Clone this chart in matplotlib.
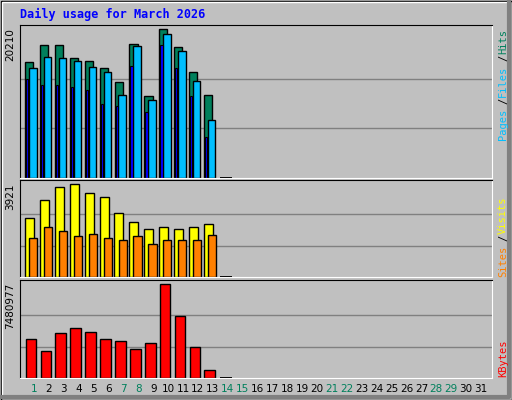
import matplotlib
matplotlib.use("Agg")
import matplotlib.pyplot as plt
import numpy as np

days = list(range(1, 32))
weekend = [1, 7, 8, 14, 15, 21, 22, 28, 29]
hits = [15730, 18040, 18040, 16280, 15870, 14920, 13020, 18180, 11120, 20210, 17770, 14380, 11260, 0]
files = [14920, 16410, 16280, 15870, 15060, 14380, 11260, 17900, 10580, 19530, 17230, 13160, 7870]
pages = [13430, 12610, 12610, 12340, 11940, 10040, 9770, 15190, 8950, 18040, 14920, 11120, 5560]
visits = [2460, 3220, 3730, 3880, 3500, 3330, 2650, 2290, 1980, 2100, 2000, 2080, 2210, 0]
sites = [1640, 2100, 1900, 1690, 1810, 1640, 1520, 1710, 1390, 1560, 1560, 1560, 1730]
kbytes = [3130000, 2160000, 3540000, 3950000, 3620000, 3130000, 2970000, 2330000, 2800000, 7480977, 4950000, 2470000, 650000, 0]
max_hits, max_vis, max_kb = 20210, 3921, 7480977

W, H = 512, 400
fig = plt.figure(figsize=(W/100, H/100), dpi=100)
fig.patch.set_facecolor("#C0C0C0")
bg = fig.add_axes([0, 0, 1, 1]); bg.set_xlim(0, W); bg.set_ylim(H, 0); bg.axis("off")
bg.add_patch(plt.Rectangle((0.5, 0.5), W-1, H-1, fill=False, ec="black", lw=1))
bg.add_patch(plt.Rectangle((2, 2), W-6, H-6, fill=False, ec="white", lw=1))
bg.plot([2, W-3, W-3], [H-3, H-3, 2], color="#808080", lw=3)
mono = "DejaVu Sans Mono"
bg.text(20, 14, "Daily usage for March 2026", color="#0000FF", fontsize=8.5, fontweight="bold",
        family=mono, va="center")

def mkax(y0, y1):
    ax = fig.add_axes([20/W, 1-y1/H, 472/W, (y1-y0)/H])
    ax.set_facecolor("#C0C0C0")
    ax.set_xlim(0.06, 31.74)
    ax.set_xticks([]); ax.set_yticks([])
    for s in ax.spines.values(): s.set_color("black")
    ax.spines["right"].set_color("white"); ax.spines["bottom"].set_color("white")
    return ax

def rlabels(y_bottom, parts):
    y = y_bottom
    for txt, col in parts:
        bg.text(503, y, txt, color=col, rotation=90, fontsize=7.5, family=mono, ha="center", va="bottom")
        y -= 7.2 * len(txt)

ec = dict(edgecolor="black", linewidth=1)
ax1 = mkax(25, 178)
ax1.set_ylim(0, max_hits*1.027)
for f in (1/3, 2/3): ax1.axhline(max_hits*f, color="#808080", lw=1, zorder=0)
d = np.arange(1, len(hits)+1)
ax1.bar(d[:13]-0.32, hits[:13], width=0.55, color="#00805C", **ec)
ax1.bar([14-0.1], [max_hits*0.007], width=0.8, color="black")
ax1.bar(d[:13]-0.08, files[:13], width=0.5, color="#00BFFF", **ec)
ax1.bar(d[:13]-0.45, pages, width=0.15, color="#0000FF", edgecolor="black", linewidth=0.8)
bg.text(10, 28, str(max_hits), rotation=90, fontsize=7.5, family="DejaVu Sans", ha="center", va="top")
rlabels(140, [("Pages", "#00BFFF"), ("/", "black"), ("Files", "#00BFFF"), ("/", "black"), ("Hits", "#00805C")])

ax2 = mkax(180, 277)
ax2.set_ylim(0, max_vis*1.03)
for f in (1/3, 2/3): ax2.axhline(max_vis*f, color="#808080", lw=1, zorder=0)
ax2.bar(d[:13]-0.3, visits[:13], width=0.6, color="#FFFF00", **ec)
ax2.bar([14-0.1], [max_vis*0.01], width=0.8, color="black")
ax2.bar(d[:13]-0.05, sites, width=0.55, color="#FF8000", **ec)
bg.text(10, 183, str(max_vis), rotation=90, fontsize=7.5, family="DejaVu Sans", ha="center", va="top")
rlabels(277, [("Sites", "#FF8000"), ("/", "black"), ("Visits", "#FFFF00")])

ax3 = mkax(280, 378)
ax3.set_ylim(0, max_kb*1.04)
for f in (1/3, 2/3): ax3.axhline(max_kb*f, color="#808080", lw=1, zorder=0)
ax3.bar(d[:13]-0.2, kbytes[:13], width=0.72, color="#FF0000", **ec)
ax3.bar([14-0.1], [max_kb*0.01], width=0.8, color="black")
bg.text(10, 283, str(max_kb), rotation=90, fontsize=7.5, family="DejaVu Sans", ha="center", va="top")
rlabels(377, [("KBytes", "#FF0000")])

for day in days:
    x = 20 + (day - 0.06) * (472/31.68)
    bg.text(x, 389, str(day), color="#00805C" if day in weekend else "black",
            fontsize=7.5, family="DejaVu Sans", ha="center", va="center")

fig.savefig("out.png", dpi=100, facecolor=fig.get_facecolor())
